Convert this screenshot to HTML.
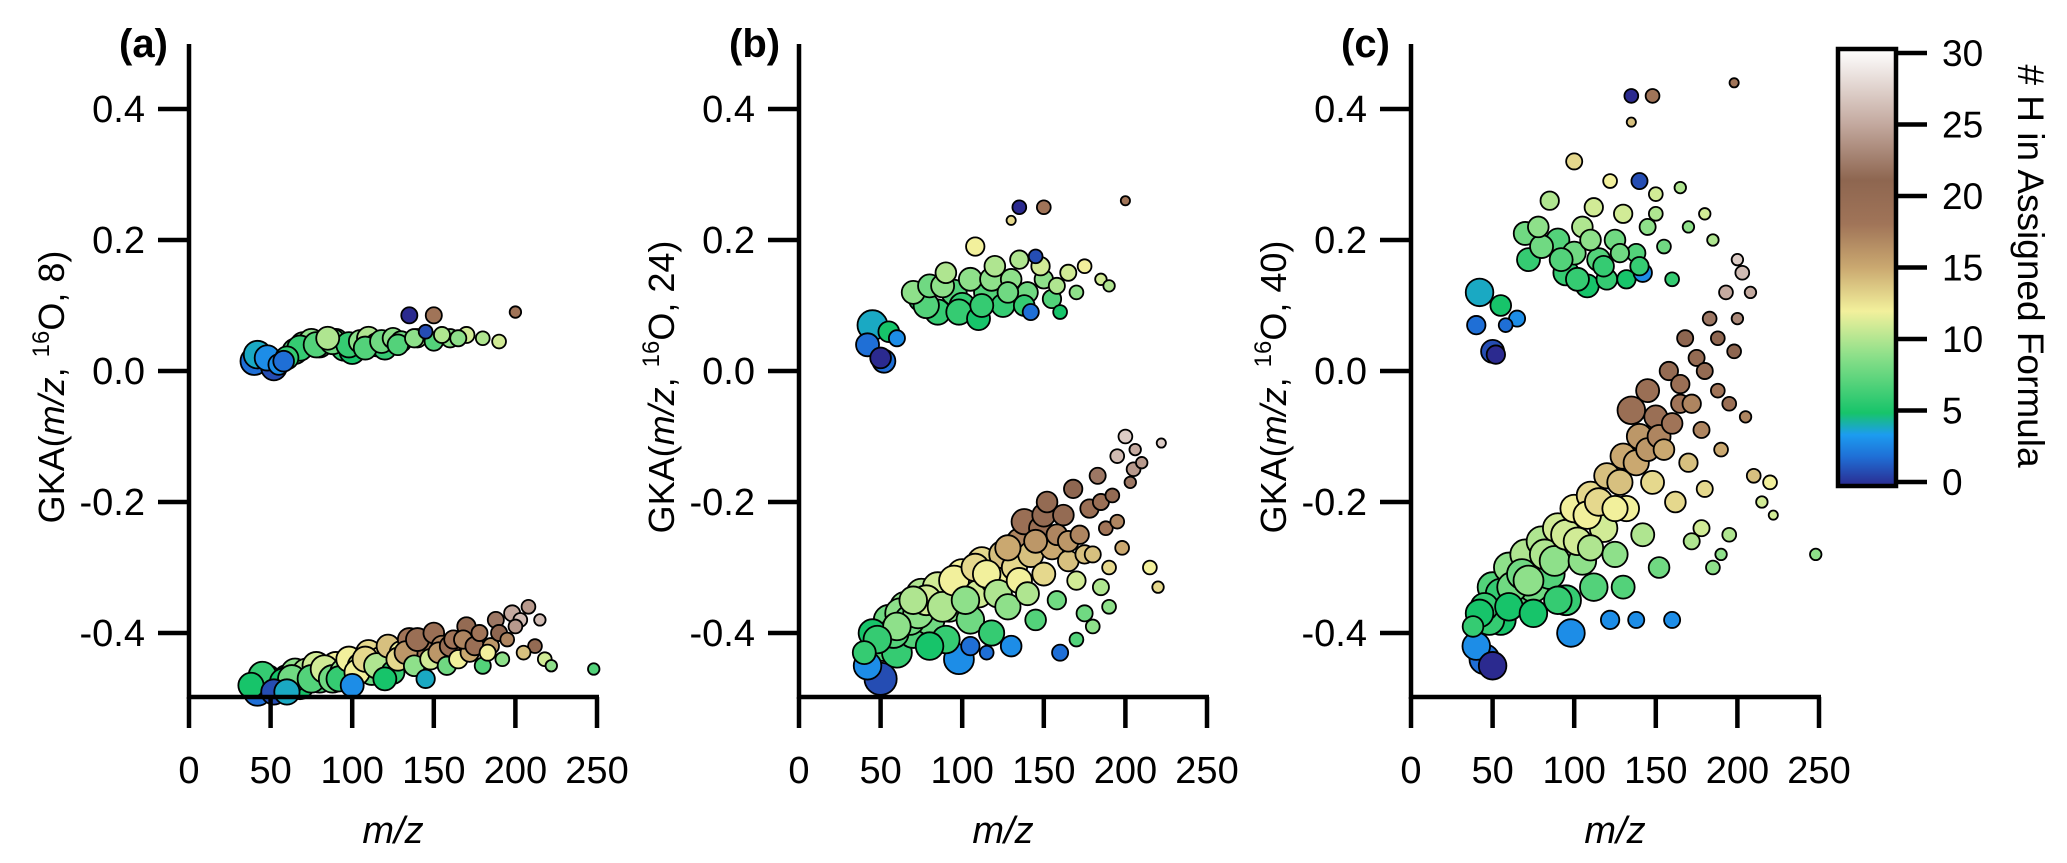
<!DOCTYPE html>
<html><head><meta charset="utf-8"><style>
html,body{margin:0;padding:0;background:#fff;}
svg{display:block;font-family:"Liberation Sans",Arial,sans-serif;}
</style></head><body>
<svg id="fig" width="2067" height="863" viewBox="0 0 2067 863" xmlns="http://www.w3.org/2000/svg">
<defs>
<linearGradient id="cbg" x1="0" y1="1" x2="0" y2="0">
<stop offset="0" stop-color="#2b2a8f"/><stop offset="0.067" stop-color="#1f6fd6"/><stop offset="0.117" stop-color="#1c9cf0"/>
<stop offset="0.167" stop-color="#17c46a"/><stop offset="0.3" stop-color="#8ee08a"/><stop offset="0.4" stop-color="#f2f09c"/>
<stop offset="0.5" stop-color="#caa870"/><stop offset="0.6" stop-color="#a07458"/><stop offset="0.7" stop-color="#8e6650"/>
<stop offset="0.83" stop-color="#c4aaa0"/><stop offset="1" stop-color="#ffffff"/>
</linearGradient>
</defs>
<g id="root"></g>
</svg>
<script>
const xTicks=[0,50,100,150,200,250];
const yTicks=[0.4,0.2,0.0,-0.2,-0.4];
const yTickLabels=["0.4","0.2","0.0","-0.2","-0.4"];
const cbTicks=[0,5,10,15,20,25,30];
const panelLabels=["(a)","(b)","(c)"];
const panelDivisors=["8","24","40"];
// panel a: [mz, gka, H, radius]
const mzA=[40,42,52,55,60,65,70,75,80,85,90,95,100,105,110,115,120,125,130,135,140,145,150,150,160,170,180,190,200,
38,42,48,52,55,60,65,68,72,78,80,85,90,92,98,100,105,110,112,118,122,125,130,135,138,142,145,148,150,155,158,162,165,170,172,178,180,185,188,192,195,198,203,208,212,215,218,222,248,60,120,
45,58,63,75,83,88,95,103,108,115,128,133,140,153,160,168,175,183,190,200,205,
48,58,68,78,88,98,108,118,128,138,155,165];
const gkaA=[0.015,0.025,0.005,0.01,0.02,0.03,0.04,0.045,0.04,0.05,0.045,0.035,0.03,0.045,0.05,0.04,0.035,0.05,0.045,0.085,0.05,0.06,0.085,0.045,0.05,0.055,0.05,0.045,0.09,
-0.48,-0.49,-0.47,-0.49,-0.48,-0.47,-0.46,-0.48,-0.46,-0.45,-0.47,-0.46,-0.45,-0.47,-0.44,-0.48,-0.45,-0.43,-0.46,-0.44,-0.42,-0.46,-0.43,-0.41,-0.45,-0.42,-0.47,-0.44,-0.40,-0.42,-0.45,-0.41,-0.44,-0.39,-0.43,-0.40,-0.45,-0.42,-0.38,-0.44,-0.41,-0.37,-0.38,-0.36,-0.42,-0.38,-0.44,-0.45,-0.455,-0.49,-0.47,
-0.465,-0.475,-0.47,-0.47,-0.455,-0.47,-0.46,-0.46,-0.44,-0.45,-0.44,-0.43,-0.41,-0.43,-0.42,-0.41,-0.42,-0.43,-0.40,-0.39,-0.43,
0.02,0.015,0.035,0.04,0.045,0.04,0.035,0.045,0.04,0.05,0.055,0.05];
const hA=[2,4,1,3,6,7,8,9,7,10,8,6,5,9,10,7,6,9,8,0,10,1,18,7,9,11,10,11,18,
5,2,6,1,7,8,9,5,10,11,7,10,12,6,12,3,11,13,8,12,14,6,12,18,9,18,4,11,19,17,8,18,12,20,15,18,7,16,22,9,17,25,26,24,20,26,11,9,7,4,5,
6,5,8,7,11,8,9,12,13,10,13,16,19,16,19,17,19,12,21,24,14,
3,2,6,7,8,6,7,8,7,9,10,9];
const rA=[12,12,11,9,10,11,11,11,11,10,11,11,11,10,10,10,10,9,9,7,8,6,7,8,8,7,6,6,5,
11,12,12,11,12,12,12,12,12,12,12,12,12,11,11,10,11,11,11,11,10,10,10,10,9,10,8,9,9,9,8,8,8,8,8,7,7,7,7,6,6,7,6,6,6,5,6,5,5,11,10,
12,12,12,12,12,12,12,11,11,11,10,10,10,9,9,8,8,7,7,6,6,
11,9,11,11,11,11,10,10,9,8,7,7];
// panel b
const mzB=[42,45,50,52,55,60,70,75,80,85,90,95,100,105,108,110,115,120,125,130,135,135,140,142,145,150,150,155,160,165,170,175,185,190,200,130,
40,42,45,50,52,55,60,65,70,75,80,85,90,92,98,100,105,110,112,118,120,125,128,130,132,135,138,140,142,145,148,150,152,155,158,160,162,165,168,170,172,175,178,180,183,185,188,190,192,195,198,200,203,206,210,215,220,222,180,170,105,115,60,70,80,
48,58,62,68,73,78,88,95,102,108,115,122,128,135,145,150,158,165,175,185,195,205,190,
78,88,98,112,118,128,138,148,158];
const gkaB=[0.04,0.07,0.02,0.015,0.06,0.05,0.12,0.11,0.13,0.09,0.15,0.12,0.1,0.14,0.19,0.08,0.12,0.16,0.1,0.14,0.25,0.17,0.12,0.09,0.175,0.25,0.14,0.11,0.09,0.15,0.12,0.16,0.14,0.13,0.26,0.23,
-0.43,-0.45,-0.40,-0.47,-0.42,-0.38,-0.43,-0.36,-0.40,-0.34,-0.38,-0.33,-0.41,-0.36,-0.44,-0.31,-0.38,-0.34,-0.29,-0.40,-0.32,-0.28,-0.36,-0.42,-0.30,-0.26,-0.23,-0.34,-0.28,-0.38,-0.24,-0.31,-0.20,-0.27,-0.35,-0.43,-0.22,-0.29,-0.18,-0.32,-0.25,-0.37,-0.21,-0.28,-0.16,-0.33,-0.24,-0.30,-0.19,-0.13,-0.27,-0.10,-0.17,-0.12,-0.14,-0.30,-0.33,-0.11,-0.39,-0.41,-0.42,-0.43,-0.39,-0.35,-0.42,
-0.41,-0.40,-0.37,-0.38,-0.37,-0.35,-0.36,-0.32,-0.35,-0.30,-0.31,-0.34,-0.27,-0.32,-0.26,-0.22,-0.25,-0.26,-0.28,-0.20,-0.23,-0.15,-0.36,
0.10,0.13,0.09,0.10,0.14,0.12,0.10,0.16,0.13];
const hB=[2,4,0,2,5,3,9,6,8,6,10,7,6,9,12,5,7,10,6,9,0,10,8,2,1,18,9,7,5,11,9,12,11,10,18,13,
6,3,5,1,7,8,6,9,7,10,8,11,6,9,3,12,8,11,13,6,12,14,9,3,13,17,19,10,14,7,19,13,20,15,8,2,20,14,21,11,17,8,19,14,22,10,18,13,20,26,15,27,22,25,24,12,13,27,9,7,2,2,9,10,5,
6,7,9,8,9,11,10,12,9,13,12,10,15,12,16,20,17,16,14,19,17,24,9,
7,9,6,6,9,8,6,11,10];
const rB=[10,13,9,10,9,7,10,11,10,11,9,11,11,10,8,10,11,9,10,9,6,8,9,7,6,6,8,8,6,7,6,6,5,5,4,4,
10,12,12,14,13,13,13,13,13,13,13,13,12,13,13,13,12,12,12,11,12,12,11,9,11,11,11,10,11,9,10,10,9,10,8,7,9,9,8,8,8,7,8,7,7,7,6,6,6,6,6,6,5,5,5,6,5,4,6,6,8,6,12,12,12,
12,13,13,13,13,13,13,13,12,12,12,12,11,11,10,10,9,9,8,7,6,6,6,
11,10,11,10,10,9,9,8,7];
// panel c
const mzC=[40,42,50,52,55,58,65,70,72,78,85,90,95,100,100,105,108,112,115,120,122,125,130,132,135,135,138,140,142,145,148,150,155,160,165,170,180,185,198,
38,40,45,50,45,50,55,60,65,70,75,80,85,90,95,98,100,105,110,112,118,120,122,125,130,132,135,138,140,142,145,148,150,152,155,158,160,162,165,168,170,172,175,178,180,183,185,188,190,193,195,198,200,203,205,208,210,215,220,222,248,190,60,75,90,110,130,
42,48,55,62,68,72,82,88,95,102,108,115,125,128,138,145,152,160,165,172,180,188,195,200,178,
80,92,102,110,118,128,140,150];
const gkaC=[0.07,0.12,0.03,0.025,0.10,0.07,0.08,0.21,0.17,0.22,0.26,0.20,0.15,0.18,0.32,0.22,0.13,0.25,0.17,0.14,0.29,0.20,0.24,0.14,0.42,0.38,0.18,0.29,0.15,0.22,0.42,0.27,0.19,0.14,0.28,0.22,0.24,0.20,0.44,
-0.39,-0.42,-0.44,-0.45,-0.36,-0.33,-0.38,-0.30,-0.35,-0.28,-0.33,-0.26,-0.31,-0.24,-0.35,-0.40,-0.21,-0.29,-0.19,-0.33,-0.24,-0.16,-0.38,-0.28,-0.13,-0.21,-0.06,-0.38,-0.10,-0.25,-0.03,-0.17,-0.07,-0.30,-0.12,0.00,-0.38,-0.20,-0.05,0.05,-0.14,-0.26,0.02,-0.09,-0.18,0.08,-0.30,-0.03,-0.12,0.12,-0.25,0.03,0.17,0.15,-0.07,0.12,-0.16,-0.20,-0.17,-0.22,-0.28,-0.28,-0.36,-0.37,-0.35,-0.27,-0.33,
-0.37,-0.38,-0.34,-0.33,-0.31,-0.32,-0.28,-0.29,-0.25,-0.26,-0.22,-0.20,-0.21,-0.17,-0.14,-0.12,-0.10,-0.08,-0.02,-0.05,0.00,0.05,-0.05,0.08,-0.24,
0.19,0.17,0.14,0.20,0.16,0.18,0.16,0.24];
const hC=[2,4,1,0,5,2,3,8,6,9,10,7,6,8,13,10,5,11,7,6,12,8,11,5,0,14,7,1,3,9,18,11,8,6,10,9,11,10,18,
6,3,2,0,6,7,5,9,7,10,8,10,7,11,6,3,12,9,13,7,11,14,3,9,15,12,19,3,16,10,19,13,19,8,15,20,3,13,18,21,14,10,20,17,13,22,9,18,15,25,10,21,27,26,17,25,14,11,12,11,9,9,5,5,6,10,7,
5,6,6,8,8,9,10,9,11,11,12,13,12,14,15,16,17,18,19,17,20,21,19,23,11,
8,7,6,9,6,8,6,10];
const rC=[8,12,10,8,9,6,7,10,10,9,8,10,11,10,7,9,10,8,10,9,6,9,8,8,6,4,8,7,8,7,6,6,6,6,5,5,5,5,4,
9,12,13,12,12,13,13,13,13,13,13,13,13,13,13,12,12,12,12,12,12,11,8,11,11,11,12,7,11,10,10,10,10,9,9,8,7,9,8,7,8,7,7,7,7,6,6,6,6,6,6,6,5,6,5,5,6,5,6,4,5,5,12,12,12,11,10,
12,13,13,13,13,13,13,13,13,12,12,12,11,11,11,10,10,9,8,8,7,6,6,5,7,
10,10,10,9,9,8,8,6];

const NS="http://www.w3.org/2000/svg";
const root=document.getElementById('root');
const panelX0=[189,799,1411];
const PXU=408/250, Y0=371, PYU=655, YBOT=697, YTOP=44, RSCALE=1.15, LW=4.5;
const xScale=(p,v)=>panelX0[p]+v*PXU;
const yScale=v=>Y0-v*PYU;
const cmStops=[[0,"#2b2a8f"],[2,"#1f6fd6"],[3.5,"#1c9cf0"],[5,"#17c46a"],[9,"#8ee08a"],[12,"#f2f09c"],[15,"#caa870"],[18,"#a07458"],[21,"#8e6650"],[25,"#c4aaa0"],[30,"#ffffff"]];
function hx(c){return [parseInt(c.substr(1,2),16),parseInt(c.substr(3,2),16),parseInt(c.substr(5,2),16)];}
function cmap(h){
  for(let i=0;i<cmStops.length-1;i++){
    const [a,ca]=cmStops[i],[b,cb]=cmStops[i+1];
    if(h<=b){const t=(h-a)/(b-a),A=hx(ca),B=hx(cb);
      return "rgb("+A.map((v,k)=>Math.round(v+(B[k]-v)*t)).join(",")+")";}
  }
  return "#fff";
}
function el(tag,attrs,parent){const e=document.createElementNS(NS,tag);for(const k in attrs)e.setAttribute(k,attrs[k]);(parent||root).appendChild(e);return e;}

const sets=[[mzA,gkaA,hA,rA],[mzB,gkaB,hB,rB],[mzC,gkaC,hC,rC]];
const pnames=["a","b","c"];
for(let p=0;p<3;p++){
  const g=el('g',{});
  
  
  const x0=panelX0[p];
  const [mz,gk,hh,rr]=sets[p];
  const idx=mz.map((_,i)=>i).sort((a,b)=>rr[b]-rr[a]);
  const pg=el('g',{},g);
  
  
  idx.forEach(i=>{
    const c=el('circle',{cx:xScale(p,mz[i]),cy:yScale(gk[i]),r:rr[i]*RSCALE,fill:cmap(hh[i]),stroke:"#000","stroke-width":1.8},pg);
    
    
  });
  const ya=el('line',{x1:x0,y1:YTOP,x2:x0,y2:YBOT+2,stroke:"#000","stroke-width":LW},g);
  
  
  const xa=el('line',{x1:x0-2,y1:YBOT,x2:x0+410,y2:YBOT,stroke:"#000","stroke-width":LW},g);
  
  
  xTicks.forEach(v=>{
    const X=xScale(p,v);
    el('line',{x1:X,y1:YBOT,x2:X,y2:YBOT+31,stroke:"#000","stroke-width":LW},g);
    const t=el('text',{x:X,y:783,"text-anchor":"middle","font-size":38},g);
    t.textContent=v;
    
    
  });
  yTicks.forEach((v,i)=>{
    const Y=yScale(v);
    el('line',{x1:x0-31,y1:Y,x2:x0,y2:Y,stroke:"#000","stroke-width":LW},g);
    const t=el('text',{x:x0-44,y:Y+13,"text-anchor":"end","font-size":38},g);
    t.textContent=yTickLabels[i];
    
    
  });
  const xt=el('text',{x:x0+204,y:843,"text-anchor":"middle","font-size":38,"font-style":"italic"},g);
  xt.textContent="m/z";
  
  
  const yt=el('text',{transform:"translate("+(x0-125)+",387) rotate(-90)","text-anchor":"middle","font-size":36},g);
  yt.innerHTML='GKA(<tspan font-style="italic">m/z</tspan>, <tspan font-size="24" dy="-15">16</tspan><tspan dy="15">O, '+panelDivisors[p]+')</tspan>';
  
  
  const pl=el('text',{x:x0-70,y:57,"font-size":40,"font-weight":"bold"},g);
  pl.textContent=panelLabels[p];
  
  
}
const cb=el('g',{});


const CBT=49,CBB=486,CBL=1838,CBR=1896;
const cbY=v=>482-(v/30)*(482-53);
el('rect',{x:CBL,y:CBT,width:CBR-CBL,height:CBB-CBT,fill:"url(#cbg)",stroke:"#000","stroke-width":LW},cb);
cbTicks.forEach(v=>{
  const Y=cbY(v);
  el('line',{x1:CBR,y1:Y,x2:CBR+31,y2:Y,stroke:"#000","stroke-width":LW},cb);
  const t=el('text',{x:1942,y:Y+13,"font-size":37},cb);
  t.textContent=v;
  
  
});
const ct=el('text',{transform:"translate(2018,266) rotate(90)","text-anchor":"middle","font-size":37},cb);
ct.textContent="# H in Assigned Formula";


</script>
</body></html>
